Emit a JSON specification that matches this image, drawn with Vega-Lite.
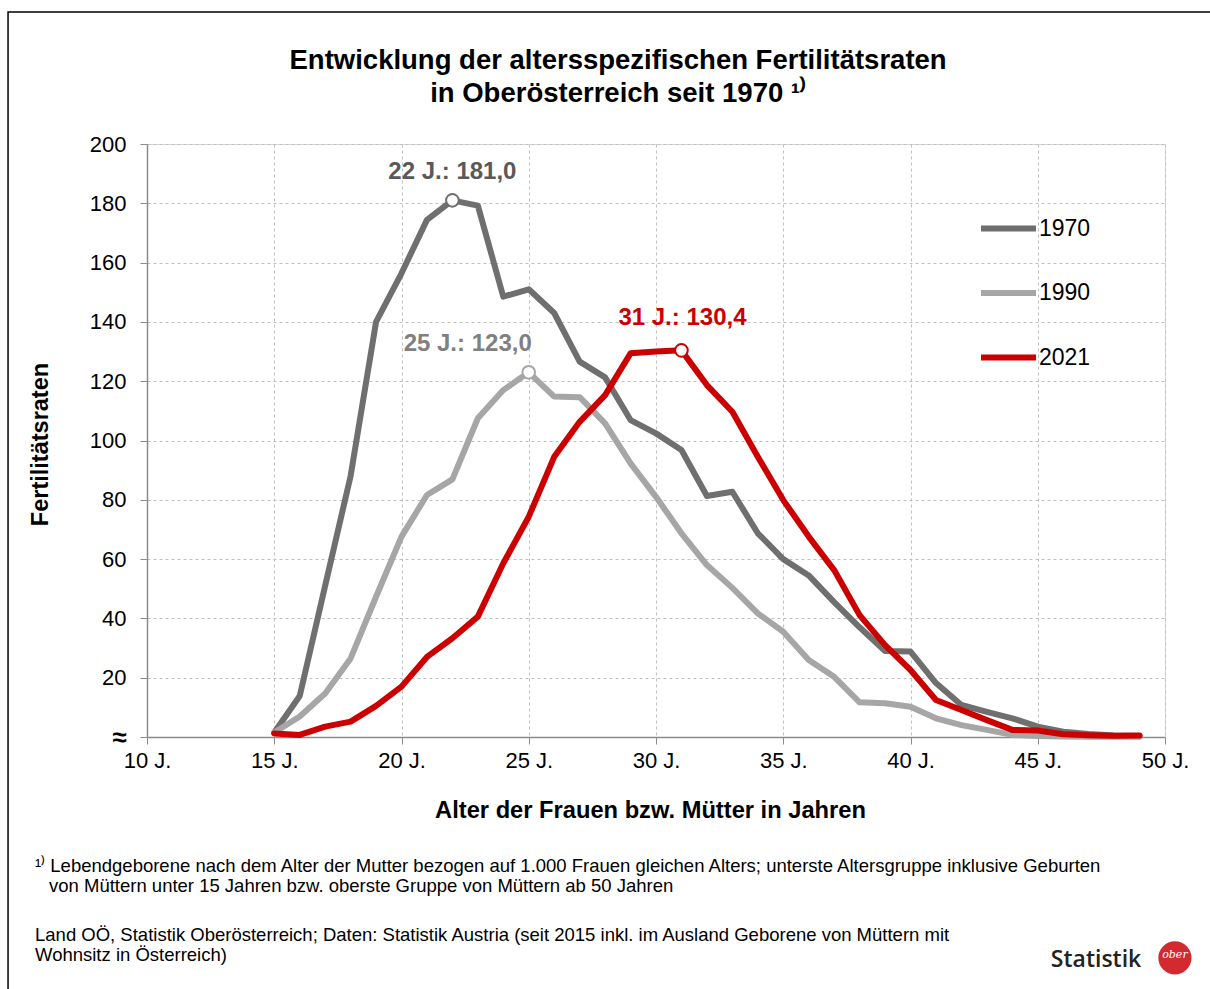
{
  "$schema": "https://vega.github.io/schema/vega-lite/v6.json",
  "width": 1018,
  "height": 593,
  "autosize": {"type": "none"},
  "padding": {"left": 147, "top": 144, "right": 45, "bottom": 252},
  "background": "white",
  "config": {
    "font": "Liberation Sans",
    "view": {"stroke": "#d9d9d9", "strokeWidth": 1}
  },
  "datasets": {
    "rates": [
      {"series": "1970", "age": 15, "value": 1.5},
      {"series": "1970", "age": 16, "value": 13.8},
      {"series": "1970", "age": 17, "value": 51},
      {"series": "1970", "age": 18, "value": 88},
      {"series": "1970", "age": 19, "value": 140},
      {"series": "1970", "age": 20, "value": 156.4},
      {"series": "1970", "age": 21, "value": 174.4},
      {"series": "1970", "age": 22, "value": 181.0},
      {"series": "1970", "age": 23, "value": 179.2},
      {"series": "1970", "age": 24, "value": 148.5},
      {"series": "1970", "age": 25, "value": 151},
      {"series": "1970", "age": 26, "value": 143},
      {"series": "1970", "age": 27, "value": 126.6},
      {"series": "1970", "age": 28, "value": 121.3},
      {"series": "1970", "age": 29, "value": 106.9},
      {"series": "1970", "age": 30, "value": 102.4},
      {"series": "1970", "age": 31, "value": 96.8},
      {"series": "1970", "age": 32, "value": 81.3},
      {"series": "1970", "age": 33, "value": 82.7},
      {"series": "1970", "age": 34, "value": 68.7},
      {"series": "1970", "age": 35, "value": 60},
      {"series": "1970", "age": 36, "value": 54.5},
      {"series": "1970", "age": 37, "value": 45.5},
      {"series": "1970", "age": 38, "value": 37},
      {"series": "1970", "age": 39, "value": 29},
      {"series": "1970", "age": 40, "value": 28.8},
      {"series": "1970", "age": 41, "value": 18.2},
      {"series": "1970", "age": 42, "value": 10.8},
      {"series": "1970", "age": 43, "value": 8.5},
      {"series": "1970", "age": 44, "value": 6.3},
      {"series": "1970", "age": 45, "value": 3.5},
      {"series": "1970", "age": 46, "value": 1.8},
      {"series": "1970", "age": 47, "value": 1.0},
      {"series": "1970", "age": 48, "value": 0.5},
      {"series": "1970", "age": 49, "value": 0.3},
      {"series": "1990", "age": 15, "value": 1.5},
      {"series": "1990", "age": 16, "value": 6.9},
      {"series": "1990", "age": 17, "value": 14.7},
      {"series": "1990", "age": 18, "value": 26.5},
      {"series": "1990", "age": 19, "value": 47.3},
      {"series": "1990", "age": 20, "value": 67.6},
      {"series": "1990", "age": 21, "value": 81.6},
      {"series": "1990", "age": 22, "value": 86.9},
      {"series": "1990", "age": 23, "value": 107.5},
      {"series": "1990", "age": 24, "value": 117},
      {"series": "1990", "age": 25, "value": 123.0},
      {"series": "1990", "age": 26, "value": 114.8},
      {"series": "1990", "age": 27, "value": 114.6},
      {"series": "1990", "age": 28, "value": 105.8},
      {"series": "1990", "age": 29, "value": 92.3},
      {"series": "1990", "age": 30, "value": 81},
      {"series": "1990", "age": 31, "value": 68.7},
      {"series": "1990", "age": 32, "value": 58},
      {"series": "1990", "age": 33, "value": 50.3},
      {"series": "1990", "age": 34, "value": 41.7},
      {"series": "1990", "age": 35, "value": 35.5},
      {"series": "1990", "age": 36, "value": 26},
      {"series": "1990", "age": 37, "value": 20.3},
      {"series": "1990", "age": 38, "value": 11.7},
      {"series": "1990", "age": 39, "value": 11.4},
      {"series": "1990", "age": 40, "value": 10.2},
      {"series": "1990", "age": 41, "value": 6.3},
      {"series": "1990", "age": 42, "value": 4},
      {"series": "1990", "age": 43, "value": 2.4},
      {"series": "1990", "age": 44, "value": 0.7},
      {"series": "1990", "age": 45, "value": 0.3},
      {"series": "1990", "age": 46, "value": 0.2},
      {"series": "1990", "age": 47, "value": 0.1},
      {"series": "1990", "age": 48, "value": 0.1},
      {"series": "1990", "age": 49, "value": 0.1},
      {"series": "2021", "age": 15, "value": 1.2},
      {"series": "2021", "age": 16, "value": 0.7},
      {"series": "2021", "age": 17, "value": 3.5},
      {"series": "2021", "age": 18, "value": 5.2},
      {"series": "2021", "age": 19, "value": 10.5},
      {"series": "2021", "age": 20, "value": 17},
      {"series": "2021", "age": 21, "value": 27},
      {"series": "2021", "age": 22, "value": 33.3},
      {"series": "2021", "age": 23, "value": 40.6},
      {"series": "2021", "age": 24, "value": 58.6},
      {"series": "2021", "age": 25, "value": 74.3},
      {"series": "2021", "age": 26, "value": 94.5},
      {"series": "2021", "age": 27, "value": 106.3},
      {"series": "2021", "age": 28, "value": 115.3},
      {"series": "2021", "age": 29, "value": 129.4},
      {"series": "2021", "age": 30, "value": 130},
      {"series": "2021", "age": 31, "value": 130.4},
      {"series": "2021", "age": 32, "value": 118.7},
      {"series": "2021", "age": 33, "value": 109.7},
      {"series": "2021", "age": 34, "value": 94.5},
      {"series": "2021", "age": 35, "value": 79.9},
      {"series": "2021", "age": 36, "value": 67.6},
      {"series": "2021", "age": 37, "value": 56.3},
      {"series": "2021", "age": 38, "value": 41.1},
      {"series": "2021", "age": 39, "value": 31},
      {"series": "2021", "age": 40, "value": 22.6},
      {"series": "2021", "age": 41, "value": 12.5},
      {"series": "2021", "age": 42, "value": 9.1},
      {"series": "2021", "age": 43, "value": 5.7},
      {"series": "2021", "age": 44, "value": 2.4},
      {"series": "2021", "age": 45, "value": 2.2},
      {"series": "2021", "age": 46, "value": 0.9},
      {"series": "2021", "age": 47, "value": 0.6},
      {"series": "2021", "age": 48, "value": 0.4},
      {"series": "2021", "age": 49, "value": 0.5}
    ],
    "peaks": [
      {"series": "1970", "age": 22, "value": 181.0, "label": "22 J.: 181,0"},
      {"series": "1990", "age": 25, "value": 123.0, "label": "25 J.: 123,0"},
      {"series": "2021", "age": 31, "value": 130.4, "label": "31 J.: 130,4"}
    ],
    "notes": [
      {"note": "title"}
    ]
  },
  "layer": [
    {
      "data": {"name": "rates"},
      "mark": {"type": "line", "strokeCap": "round", "strokeJoin": "round", "clip": false},
      "encoding": {
        "x": {
          "field": "age", "type": "quantitative",
          "scale": {"domain": [10, 50], "nice": false, "zero": false},
          "axis": {
            "values": [10, 15, 20, 25, 30, 35, 40, 45, 50],
            "labelExpr": "datum.value + ' J.'",
            "labelFontSize": 22, "labelColor": "#000000", "labelFont": "Liberation Sans",
            "labelPadding": 6, "labelFlush": false,
            "tickColor": "#8c8c8c", "tickSize": 7, "domainColor": "#8c8c8c", "domainWidth": 1.5,
            "grid": true, "gridColor": "#c0c0c0", "gridDash": [3, 3], "gridWidth": 1,
            "title": "Alter der Frauen bzw. Mütter in Jahren",
            "titleFontSize": 23.7, "titleFontWeight": "bold", "titleColor": "#000000",
            "titleFont": "Liberation Sans",
            "titleX": 503, "titleY": 73, "titleAlign": "center", "titleBaseline": "middle"
          }
        },
        "y": {
          "field": "value", "type": "quantitative",
          "scale": {"domain": [0, 200], "nice": false},
          "axis": {
            "values": [0, 20, 40, 60, 80, 100, 120, 140, 160, 180, 200],
            "labelExpr": "datum.value === 0 ? '≈' : datum.label",
            "labelFontSize": {"condition": {"test": "datum.value === 0", "value": 26}, "value": 22},
            "labelFontWeight": {"condition": {"test": "datum.value === 0", "value": "bold"}, "value": "normal"},
            "labelColor": "#000000", "labelFont": "Liberation Sans",
            "labelPadding": 14,
            "tickColor": "#8c8c8c", "tickSize": 7, "domainColor": "#8c8c8c", "domainWidth": 1.5,
            "grid": true, "gridColor": "#c0c0c0", "gridDash": [3, 3], "gridWidth": 1,
            "title": "Fertilitätsraten",
            "titleFontSize": 23.5, "titleFontWeight": "bold", "titleColor": "#000000",
            "titleFont": "Liberation Sans",
            "titleX": -107, "titleY": 300, "titleAngle": 270,
            "titleAlign": "center", "titleBaseline": "middle"
          }
        },
        "color": {
          "field": "series", "type": "nominal",
          "scale": {"domain": ["1970", "1990", "2021"], "range": ["#6f6f6f", "#a6a6a6", "#cc0000"]},
          "legend": {
            "title": null, "orient": "none", "legendX": 831, "legendY": 54,
            "direction": "vertical", "symbolType": "stroke", "symbolSize": 3025,
            "symbolStrokeWidth": 6.5, "labelFontSize": 23, "labelFont": "Liberation Sans",
            "labelColor": "#000000", "labelOffset": 0, "rowPadding": 21.5, "padding": 0
          }
        },
        "strokeWidth": {
          "field": "series", "type": "nominal",
          "scale": {"domain": ["1970", "1990", "2021"], "range": [6, 6, 8]},
          "legend": null
        },
        "order": {"field": "age", "type": "quantitative"}
      }
    },
    {
      "data": {"name": "peaks"},
      "mark": {"type": "point", "shape": "circle", "filled": true, "fill": "white", "size": 160, "strokeWidth": 2, "opacity": 1, "clip": false},
      "encoding": {
        "x": {"field": "age", "type": "quantitative"},
        "y": {"field": "value", "type": "quantitative"},
        "stroke": {
          "field": "series", "type": "nominal",
          "scale": {"domain": ["1970", "1990", "2021"], "range": ["#6f6f6f", "#a6a6a6", "#cc0000"]},
          "legend": null
        }
      }
    },
    {
      "data": {"name": "peaks"},
      "transform": [{"filter": "datum.series === '1970'"}],
      "mark": {"type": "text", "fontSize": 24, "fontWeight": "bold", "color": "#595959", "align": "center", "baseline": "middle", "dy": -28, "font": "Liberation Sans"},
      "encoding": {
        "x": {"field": "age", "type": "quantitative"},
        "y": {"field": "value", "type": "quantitative"},
        "text": {"field": "label"}
      }
    },
    {
      "data": {"name": "peaks"},
      "transform": [{"filter": "datum.series === '1990'"}],
      "mark": {"type": "text", "fontSize": 24, "fontWeight": "bold", "color": "#808080", "align": "right", "baseline": "middle", "dx": 3, "dy": -28, "font": "Liberation Sans"},
      "encoding": {
        "x": {"field": "age", "type": "quantitative"},
        "y": {"field": "value", "type": "quantitative"},
        "text": {"field": "label"}
      }
    },
    {
      "data": {"name": "peaks"},
      "transform": [{"filter": "datum.series === '2021'"}],
      "mark": {"type": "text", "fontSize": 24, "fontWeight": "bold", "color": "#cc0000", "align": "center", "baseline": "middle", "dx": 1, "dy": -32, "font": "Liberation Sans"},
      "encoding": {
        "x": {"field": "age", "type": "quantitative"},
        "y": {"field": "value", "type": "quantitative"},
        "text": {"field": "label"}
      }
    },
    {
      "data": {"name": "notes"},
      "mark": {"type": "rect", "fill": null, "filled": false, "stroke": "#000000", "strokeWidth": 1.5, "clip": false},
      "encoding": {
        "x": {"datum": 4.54, "type": "quantitative"},
        "x2": {"datum": 62},
        "y": {"datum": 244.5, "type": "quantitative"},
        "y2": {"datum": -130}
      }
    },
    {
      "data": {"name": "notes"},
      "mark": {"type": "text", "fontSize": 27.5, "fontWeight": "bold", "align": "center", "baseline": "alphabetic", "lineHeight": 33, "color": "#000000", "font": "Liberation Sans", "clip": false},
      "encoding": {
        "x": {"datum": 28.51, "type": "quantitative"},
        "y": {"datum": 225.3, "type": "quantitative"},
        "text": {"value": ["Entwicklung der altersspezifischen Fertilitätsraten", "in Oberösterreich seit 1970 ¹⁾"]}
      }
    },
    {
      "data": {"name": "notes"},
      "mark": {"type": "text", "fontSize": 18.5, "align": "left", "baseline": "alphabetic", "color": "#000000", "font": "Liberation Sans", "clip": false},
      "encoding": {
        "x": {"datum": 5.6, "type": "quantitative"},
        "y": {"datum": -45.5, "type": "quantitative"},
        "text": {"value": "¹⁾ Lebendgeborene nach dem Alter der Mutter bezogen auf 1.000 Frauen gleichen Alters; unterste Altersgruppe inklusive Geburten"}
      }
    },
    {
      "data": {"name": "notes"},
      "mark": {"type": "text", "fontSize": 18.5, "align": "left", "baseline": "alphabetic", "color": "#000000", "font": "Liberation Sans", "clip": false},
      "encoding": {
        "x": {"datum": 6.15, "type": "quantitative"},
        "y": {"datum": -52.25, "type": "quantitative"},
        "text": {"value": "von Müttern unter 15 Jahren bzw. oberste Gruppe von Müttern ab 50 Jahren"}
      }
    },
    {
      "data": {"name": "notes"},
      "mark": {"type": "text", "fontSize": 18.5, "align": "left", "baseline": "alphabetic", "lineHeight": 20, "color": "#000000", "font": "Liberation Sans", "clip": false},
      "encoding": {
        "x": {"datum": 5.6, "type": "quantitative"},
        "y": {"datum": -68.8, "type": "quantitative"},
        "text": {"value": ["Land OÖ, Statistik Oberösterreich; Daten: Statistik Austria (seit 2015 inkl. im Ausland Geborene von Müttern mit", "Wohnsitz in Österreich)"]}
      }
    },
    {
      "data": {"name": "notes"},
      "mark": {"type": "text", "fontSize": 23, "fontWeight": 600, "align": "center", "baseline": "middle", "color": "#222222", "font": "Open Sans", "clip": false},
      "encoding": {
        "x": {"datum": 47.29, "type": "quantitative"},
        "y": {"datum": -75.2, "type": "quantitative"},
        "text": {"value": "Statistik"}
      }
    },
    {
      "data": {"name": "notes"},
      "mark": {"type": "point", "shape": "circle", "filled": true, "color": "#d42a2f", "size": 1100, "opacity": 1, "clip": false},
      "encoding": {
        "x": {"datum": 50.39, "type": "quantitative"},
        "y": {"datum": -74.5, "type": "quantitative"}
      }
    },
    {
      "data": {"name": "notes"},
      "mark": {"type": "text", "fontSize": 11, "fontStyle": "italic", "align": "center", "baseline": "middle", "color": "white", "font": "DejaVu Serif", "clip": false},
      "encoding": {
        "x": {"datum": 50.39, "type": "quantitative"},
        "y": {"datum": -73.5, "type": "quantitative"},
        "text": {"value": "ober"}
      }
    }
  ]
}
